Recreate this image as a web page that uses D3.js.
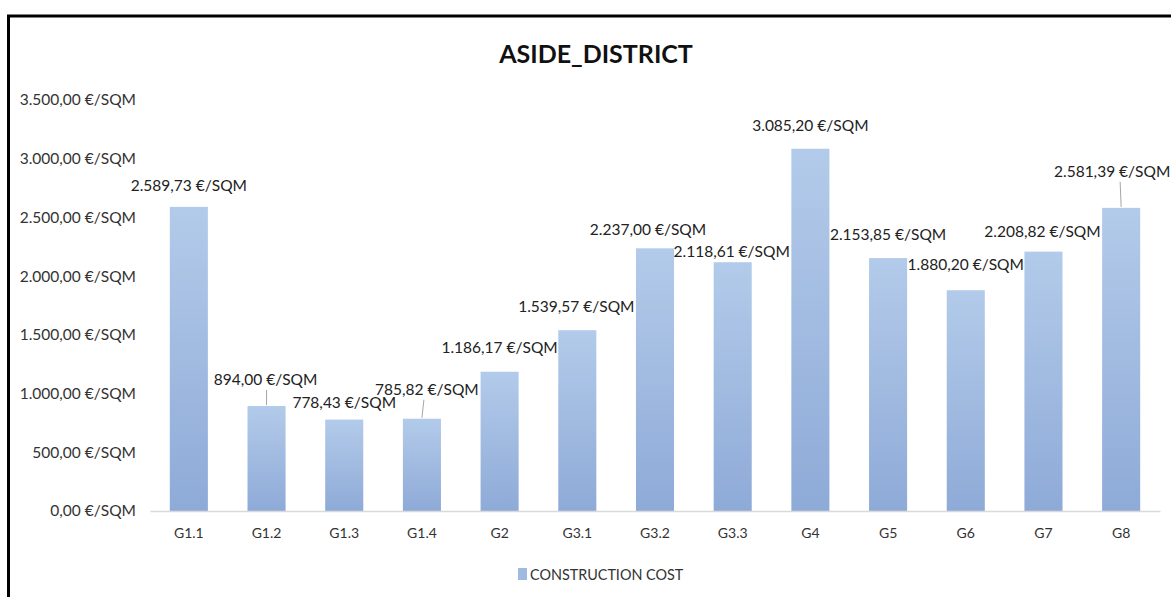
<!DOCTYPE html>
<html><head><meta charset="utf-8">
<script src="https://cdn.jsdelivr.net/npm/d3@7"></script>
<style>body{margin:0;background:#fff}svg{display:block}</style>
</head><body><svg id="c" width="1171" height="597"></svg>
<script>
const categories = ["G1.1","G1.2","G1.3","G1.4","G2","G3.1","G3.2","G3.3","G4","G5","G6","G7","G8"];
const values = [2589.73,894.00,778.43,785.82,1186.17,1539.57,2237.00,2118.61,3085.20,2153.85,1880.20,2208.82,2581.39];
const yTicks = [0,500,1000,1500,2000,2500,3000,3500];
const seriesName = "CONSTRUCTION COST";
const title = "ASIDE_DISTRICT";
// manual data-label placement: dx from bar centre, dy (baseline) from bar top
const labelOffsets = [[0,-16],[-1,-21],[0,-12],[5,-24],[0,-19],[-1,-18],[-7,-13],[-1,-5],[0,-18],[0,-18],[0,-20],[-1,-15],[-9,-31]];
// leader lines: category index, x shift at label end
const leaders = [[1,0],[3,2],[12,-1]];

const fmt = v => {
  const s = d3.format(",.2f")(v);
  return s.replace(/,/g,"#").replace(/\./g,",").replace(/#/g,".") + " €/SQM";
};
const svg = d3.select("#c");
const font = "Lato, 'Open Sans', sans-serif";

const defs = svg.append("defs");
const g = defs.append("linearGradient").attr("id","barg").attr("x1",0).attr("y1",0).attr("x2",0).attr("y2",1);
g.append("stop").attr("offset","0%").attr("stop-color","#b3cbea");
g.append("stop").attr("offset","100%").attr("stop-color","#8eaad7");

// frame
svg.append("rect").attr("x",8.5).attr("y",16).attr("width",1180).attr("height",600)
  .attr("fill","none").attr("stroke","#000").attr("stroke-width",3);

const x = d3.scaleBand().domain(categories).range([150,1160]).paddingInner(0.51).paddingOuter(0.255);
const y = d3.scaleLinear().domain([0,3500]).range([511,100]);

svg.append("text").attr("x",596).attr("y",63).attr("text-anchor","middle")
  .attr("font-family",font).attr("font-weight","bold").attr("font-size",25).attr("fill","#111").text(title);

// y axis labels
const ya = svg.append("g").attr("transform","translate(136,0)")
  .call(d3.axisLeft(y).tickValues(yTicks).tickSize(0).tickPadding(0).tickFormat(fmt));
ya.select(".domain").remove();
ya.selectAll("text").attr("font-family",font).attr("font-size",15.5).attr("fill","#333");

// bars
svg.append("g").selectAll("rect").data(values).join("rect")
  .attr("x",(d,i)=>x(categories[i])).attr("width",x.bandwidth())
  .attr("y",d=>y(d)).attr("height",d=>y(0)-y(d)).attr("fill","url(#barg)");

// x axis
const xa = svg.append("g").attr("transform","translate(0,511)")
  .call(d3.axisBottom(x).tickSize(0).tickPadding(17));
xa.select(".domain").attr("stroke","#d9d9d9").attr("stroke-width",1.5);
xa.selectAll("text").attr("font-family",font).attr("font-size",14).attr("fill","#333");

// data labels
const lab = svg.append("g");
values.forEach((v,i)=>{
  const cx = x(categories[i]) + x.bandwidth()/2;
  const ty = y(v);
  const [dx,dy] = labelOffsets[i];
  lab.append("text").attr("x",cx+dx).attr("y",ty+dy).attr("text-anchor","middle")
    .attr("font-family",font).attr("font-size",15.5).attr("fill","#222").text(fmt(v));
});
leaders.forEach(([i,sx])=>{
  const cx = x(categories[i]) + x.bandwidth()/2;
  const ty = y(values[i]);
  const dy = labelOffsets[i][1];
  lab.append("line").attr("x1",cx+sx).attr("x2",cx).attr("y1",ty+dy+5).attr("y2",ty-1)
    .attr("stroke","#a6a6a6").attr("stroke-width",1);
});

// legend
const lg = svg.append("g").attr("transform","translate(518,568)");
lg.append("rect").attr("x",0).attr("y",0).attr("width",9).attr("height",12).attr("fill","#a0bae0");
lg.append("text").attr("x",12).attr("y",12).attr("font-family",font).attr("font-size",14.4).attr("fill","#333").text(seriesName);
</script></body></html>
